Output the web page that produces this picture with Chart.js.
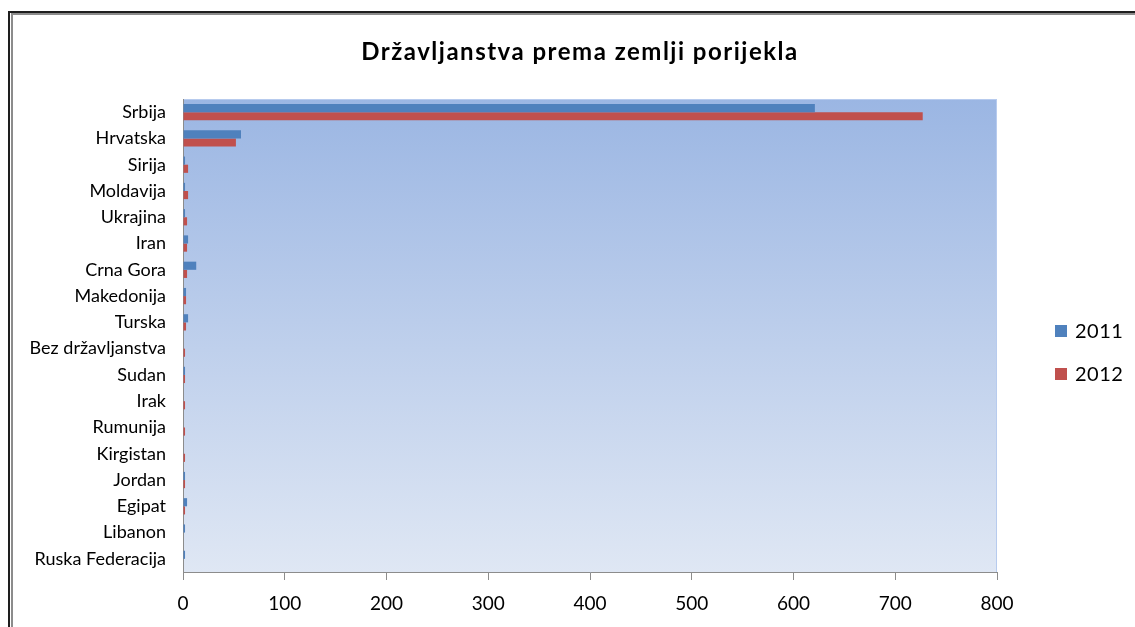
<!DOCTYPE html>
<html>
<head>
<meta charset="utf-8">
<title>Državljanstva prema zemlji porijekla</title>
<script src="https://cdn.jsdelivr.net/npm/chart.js@4.4.1/dist/chart.umd.min.js"></script>
<style>
  html, body { margin: 0; padding: 0; background: #ffffff; }
  #wrap { width: 1135px; height: 627px; position: relative; }
</style>
</head>
<body>
<div id="wrap"><canvas id="c" width="1135" height="627"></canvas></div>
<script>
// Countries of origin (top to bottom)
const countries = [
  'Srbija', 'Hrvatska', 'Sirija', 'Moldavija', 'Ukrajina', 'Iran', 'Crna Gora',
  'Makedonija', 'Turska', 'Bez državljanstva', 'Sudan', 'Irak', 'Rumunija',
  'Kirgistan', 'Jordan', 'Egipat', 'Libanon', 'Ruska Federacija'
];
// Citizenships granted per year
const values2011 = [621, 57, 2, 2, 2, 5, 13, 3, 5, 0, 2, 0, 0, 0, 2, 4, 2, 2];
const values2012 = [727, 52, 5, 5, 4, 4, 4, 3, 3, 2, 2, 2, 2, 2, 2, 2, 0, 0];
const seriesLabels = ['2011', '2012'];
const seriesColors = ['#4f81bd', '#c0504d'];
const xTicks = [0, 100, 200, 300, 400, 500, 600, 700, 800];
const titleText = 'Državljanstva prema zemlji porijekla';

const FONT = 'Lato, "Open Sans", sans-serif';

// Page frame, plot background, title and legend
const decor = {
  id: 'decor',
  beforeDraw(chart) {
    const ctx = chart.ctx;
    const a = chart.chartArea;
    ctx.save();
    ctx.fillStyle = '#ffffff';
    ctx.fillRect(0, 0, chart.width, chart.height);
    // double frame line along top and left
    ctx.fillStyle = '#1e1e1e';
    ctx.fillRect(8, 11, chart.width, 2);
    ctx.fillRect(8, 11, 2, chart.height);
    ctx.fillStyle = '#8c8c8c';
    ctx.fillRect(11, 13, chart.width, 2);
    ctx.fillRect(11, 13, 2, chart.height);
    // plot area gradient
    const g = ctx.createLinearGradient(0, a.top, 0, a.bottom);
    g.addColorStop(0, '#9bb6e3');
    g.addColorStop(1, '#dfe7f4');
    ctx.fillStyle = g;
    ctx.fillRect(a.left, a.top, a.right - a.left, a.bottom - a.top);
    ctx.strokeStyle = '#b7cbee';
    ctx.lineWidth = 1;
    ctx.strokeRect(a.left + 0.5, a.top + 0.5, a.right - a.left - 1, a.bottom - a.top);
    ctx.restore();
  },
  afterDraw(chart) {
    const ctx = chart.ctx;
    ctx.save();
    ctx.fillStyle = '#000000';
    ctx.font = 'bold 24px ' + FONT;
    ctx.letterSpacing = '1.5px';
    ctx.textAlign = 'center';
    ctx.textBaseline = 'middle';
    ctx.fillText(titleText, 580, 52);
    // legend
    ctx.letterSpacing = '0.5px';
    ctx.font = '20px ' + FONT;
    ctx.textAlign = 'left';
    chart.data.datasets.forEach((ds, i) => {
      const y = 331 + i * 43;
      ctx.fillStyle = ds.backgroundColor;
      ctx.fillRect(1055, y - 6, 12, 12);
      ctx.fillStyle = '#000000';
      ctx.fillText(ds.label, 1075, y + 1);
    });
    ctx.restore();
  }
};

new Chart(document.getElementById('c'), {
  type: 'bar',
  data: {
    labels: countries,
    datasets: [
      { label: seriesLabels[0], data: values2011, backgroundColor: seriesColors[0] },
      { label: seriesLabels[1], data: values2012, backgroundColor: seriesColors[1] }
    ]
  },
  options: {
    indexAxis: 'y',
    responsive: false,
    animation: false,
    devicePixelRatio: 1,
    layout: { padding: { top: 99, right: 138, left: 0, bottom: 0 } },
    datasets: { bar: { categoryPercentage: 0.62, barPercentage: 1.0 } },
    plugins: {
      legend: { display: false },
      title: { display: false },
      tooltip: { enabled: false }
    },
    scales: {
      x: {
        min: 0, max: 800,
        afterBuildTicks(scale) { scale.ticks = xTicks.map(v => ({ value: v })); },
        afterFit(scale) { scale.height = 55; },
        border: { display: true, color: '#8c8c8c', width: 1 },
        grid: { display: true, drawOnChartArea: false, drawTicks: true, tickLength: 8, color: '#8c8c8c' },
        ticks: { color: '#000000', padding: 12, font: { family: FONT, size: 19 } }
      },
      y: {
        afterFit(scale) { scale.width = 183; },
        border: { display: true, color: '#8c8c8c', width: 1 },
        grid: { display: false, drawTicks: false },
        ticks: { color: '#000000', padding: 17, autoSkip: false, font: { family: FONT, size: 18 } }
      }
    }
  },
  plugins: [decor]
});
</script>
</body>
</html>
